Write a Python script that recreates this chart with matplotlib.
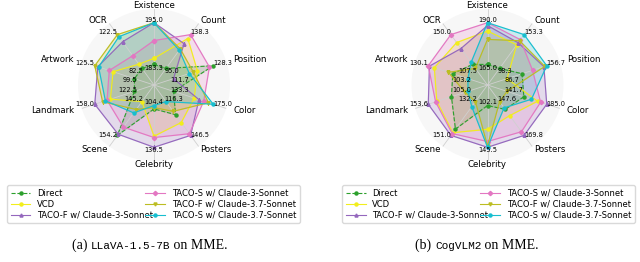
import numpy as np
import matplotlib
matplotlib.use("Agg")
import matplotlib.pyplot as plt

categories = ["Existence", "Count", "Position", "Color", "Posters",
              "Celebrity", "Scene", "Landmark", "Artwork", "OCR"]
methods = ["Direct", "VCD", "TACO-F w/ Claude-3-Sonnet", "TACO-S w/ Claude-3-Sonnet",
           "TACO-F w/ Claude-3.7-Sonnet", "TACO-S w/ Claude-3.7-Sonnet"]

# LLaVA-1.5-7B on MME
llava_direct = [183.3, 95.0, 128.3, 133.3, 128.0, 107.0, 154.2, 122.5, 99.5, 82.5]
llava_vcd = [185.0, 133.3, 121.7, 155.0, 135.0, 128.0, 145.2, 144.0, 113.5, 87.5]
llava_taco_f3 = [195.0, 126.7, 111.7, 160.0, 146.5, 136.5, 153.9, 158.0, 123.5, 114.0]
llava_taco_s3 = [190.0, 138.3, 126.7, 165.0, 145.0, 129.0, 152.0, 147.0, 116.0, 97.5]
llava_taco_f37 = [195.0, 120.0, 120.0, 170.0, 125.0, 106.0, 147.3, 151.0, 125.5, 122.5]
llava_taco_s37 = [195.0, 118.3, 118.3, 175.0, 116.3, 104.4, 148.2, 148.5, 123.0, 120.0]

# CogVLM2 on MME
cog_direct = [165.0, 98.3, 113.3, 160.0, 152.7, 102.1, 147.5, 125.2, 113.5, 112.5]
cog_vcd = [185.0, 136.7, 86.7, 175.0, 156.8, 126.8, 149.5, 143.1, 126.0, 140.0]
cog_taco_f3 = [188.3, 140.0, 151.7, 185.0, 169.8, 145.5, 151.0, 153.6, 129.3, 132.5]
cog_taco_s3 = [190.0, 145.0, 131.7, 178.3, 167.4, 139.5, 150.0, 144.6, 130.1, 150.0]
cog_taco_f37 = [180.0, 143.3, 153.3, 141.7, 147.6, 144.0, 132.2, 108.7, 116.4, 107.5]
cog_taco_s37 = [190.0, 153.3, 156.7, 168.3, 151.7, 145.5, 135.0, 105.0, 103.2, 115.0]

colors = ["#2ca02c", "#f2ee1c", "#9467bd", "#e377c2", "#bcbd22", "#17becf"]
markers = ["o", "o", "^", "D", "v", "o"]
styles = ["--", "-", "-", "-", "-", "-"]

R0 = 0.33


def radar(ax, series):
    data = np.array(series)
    vmin = data.min(axis=0)
    vmax = data.max(axis=0)
    norm = R0 + (1 - R0) * (data - vmin) / (vmax - vmin)
    angles = np.linspace(0, 2 * np.pi, len(categories), endpoint=False)
    closed = np.concatenate([angles, angles[:1]])
    handles = []
    for i, row in enumerate(norm):
        r = np.concatenate([row, row[:1]])
        h, = ax.plot(closed, r, color=colors[i], ls=styles[i], lw=0.8,
                     marker=markers[i], ms=2.2, label=methods[i])
        ax.fill(closed, r, color=colors[i], alpha=0.2)
        handles.append(h)

    ax.set_theta_offset(np.pi / 2)
    ax.set_theta_direction(-1)
    ax.set_ylim(0, 1.22)
    ax.set_yticks([])
    ax.set_xticks(angles)
    ax.set_xticklabels([])
    ax.spines["polar"].set_visible(False)
    ax.set_facecolor("#f7f7f7")
    ax.grid(color="#d0d0d0", lw=0.6)

    for a, name, lo, hi in zip(angles, categories, vmin, vmax):
        s = np.sin(a)
        c = np.cos(a)
        ha = "left" if s > 0.1 else ("right" if s < -0.1 else "center")
        # category name outside the circle
        if abs(s) < 0.1:
            rr = 1.28
        elif abs(s) > 0.9:
            rr = 1.34
        else:
            rr = 1.27
        ax.text(a, rr, name, fontsize=6.2, ha=ha, va="center")
        # max value at the rim, min value near the centre
        va = "bottom" if c > 0.2 else ("top" if c < -0.9 else "center")
        ax.text(a, 1.0, f"{hi:.1f}", fontsize=4.8, ha=ha, va=va, zorder=10)
        ax.text(a, 0.28, f"{lo:.1f}", fontsize=4.8, ha=ha, va="center", zorder=10)
    return handles


fig = plt.figure(figsize=(6.4, 2.62), dpi=100)
ax1 = fig.add_axes([78 / 640, 101 / 262, 152 / 640, 152 / 262], projection="polar")
ax2 = fig.add_axes([411.5 / 640, 101 / 262, 152 / 640, 152 / 262], projection="polar")

h1 = radar(ax1, [llava_direct, llava_vcd, llava_taco_f3, llava_taco_s3,
                 llava_taco_f37, llava_taco_s37])
h2 = radar(ax2, [cog_direct, cog_vcd, cog_taco_f3, cog_taco_s3,
                 cog_taco_f37, cog_taco_s37])

for h, x0 in [(h1, 3), (h2, 338)]:
    fig.legend(handles=h, labels=methods, ncol=2, loc="upper left",
               bbox_to_anchor=(x0 / 640, 42 / 262, 301 / 640, 39 / 262),
               mode="expand", fontsize=6, handlelength=2.4, borderpad=0.4,
               labelspacing=0.25, edgecolor="#d0d0d0")

# captions: serif text with a monospace model name
renderer = fig.canvas.get_renderer()


def caption(cx, parts):
    texts = []
    for s, fam, size in parts:
        texts.append(fig.text(0, 13 / 262, s, family=fam, fontsize=size,
                              ha="left", va="baseline"))
    widths = [t.get_window_extent(renderer).width / 640 for t in texts]
    x = cx / 640 - sum(widths) / 2
    for t, w in zip(texts, widths):
        t.set_x(x)
        x += w


caption(150, [("(a) ", "Liberation Serif", 10), ("LLaVA-1.5-7B", "Liberation Mono", 8),
              (" on MME.", "Liberation Serif", 10)])
caption(477, [("(b) ", "Liberation Serif", 10), ("CogVLM2", "Liberation Mono", 8),
              (" on MME.", "Liberation Serif", 10)])

fig.savefig("out.png", dpi=100)
